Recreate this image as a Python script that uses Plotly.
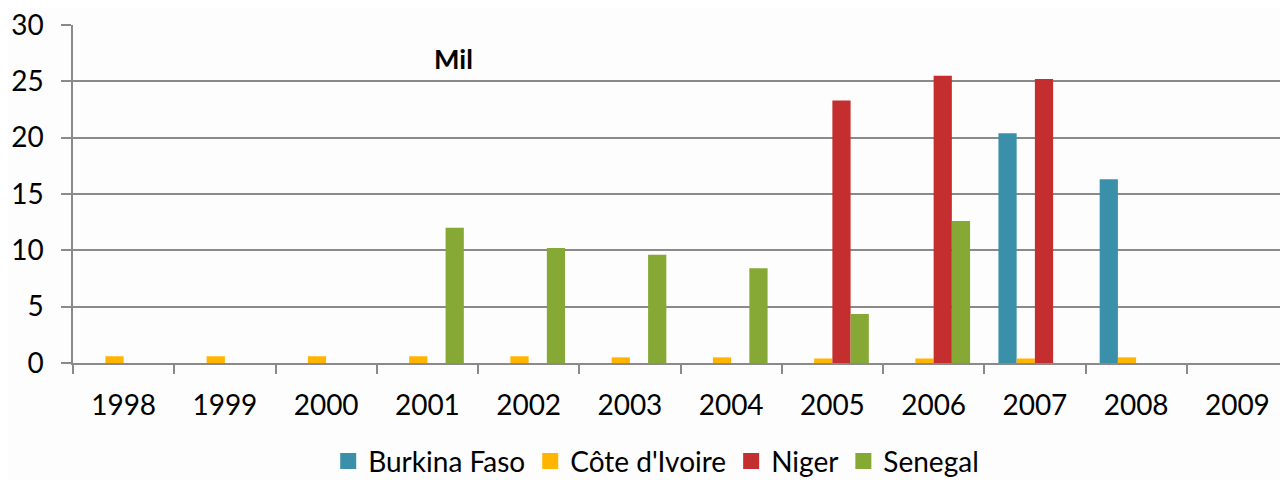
import plotly.graph_objects as go

years = ["1998", "1999", "2000", "2001", "2002", "2003", "2004", "2005", "2006", "2007", "2008", "2009"]
burkina = [None, None, None, None, None, None, None, None, None, 20.4, 16.3, None]
cote = [0.6, 0.6, 0.6, 0.6, 0.6, 0.5, 0.5, 0.4, 0.4, 0.4, 0.5, None]
niger = [None, None, None, None, None, None, None, 23.3, 25.5, 25.2, None, None]
senegal = [None, None, None, 12.0, 10.2, 9.6, 8.4, 4.35, 12.6, None, None, None]

series = [
    ("Burkina Faso", burkina, "#3A90A8"),
    ("Côte d'Ivoire", cote, "#FFB400"),
    ("Niger", niger, "#C42E2E"),
    ("Senegal", senegal, "#86A834"),
]

font_family = "Lato, 'Open Sans', sans-serif"

fig = go.Figure()
for name, vals, col in series:
    fig.add_trace(go.Bar(x=years, y=vals, name=name, showlegend=False,
                         marker=dict(color=col, line=dict(width=0))))
for name, vals, col in series:
    fig.add_trace(go.Scatter(x=[None], y=[None], name=name, mode="markers",
                             marker=dict(symbol="square", size=17, color=col)))

# page body adds an 8px offset; size the figure so the plot lands where the reference has it
fig.update_layout(
    width=1280, height=472,
    margin=dict(l=65, r=0, t=17, b=117, autoexpand=False),
    paper_bgcolor="#fdfdfd", plot_bgcolor="rgba(0,0,0,0)",
    barmode="group", bargap=0.28, bargroupgap=0,
    font=dict(family=font_family, size=28, color="#000000"),
    showlegend=True,
    legend=dict(orientation="h", x=0.48, xanchor="center", y=-0.291, yanchor="middle",
                font=dict(size=28), itemwidth=30, traceorder="normal",
                bgcolor="rgba(0,0,0,0)"),
    annotations=[dict(text="<b>Mil</b>", x=0.3135, y=0.902, xref="paper", yref="paper",
                      xanchor="center", yanchor="middle",
                      showarrow=False, font=dict(size=27, family=font_family, weight=700))],
)
fig.update_xaxes(
    type="category", showline=True, linecolor="#8a8a8a", linewidth=1.5,
    ticks="outside", tickson="boundaries", ticklen=9, tickcolor="#8a8a8a", tickwidth=1.5,
    showgrid=False, ticklabelstandoff=17, ticklabeloverflow="allow",
)
fig.update_yaxes(
    range=[0, 30], dtick=5, showline=True, linecolor="#8a8a8a", linewidth=1.5,
    showgrid=True, gridcolor="#8a8a8a", gridwidth=1.5,
    ticks="outside", ticklen=10, tickcolor="#8a8a8a", tickwidth=1.5,
    zeroline=False, ticklabelstandoff=12, ticklabeloverflow="allow",
)

fig.write_html("out.html")
